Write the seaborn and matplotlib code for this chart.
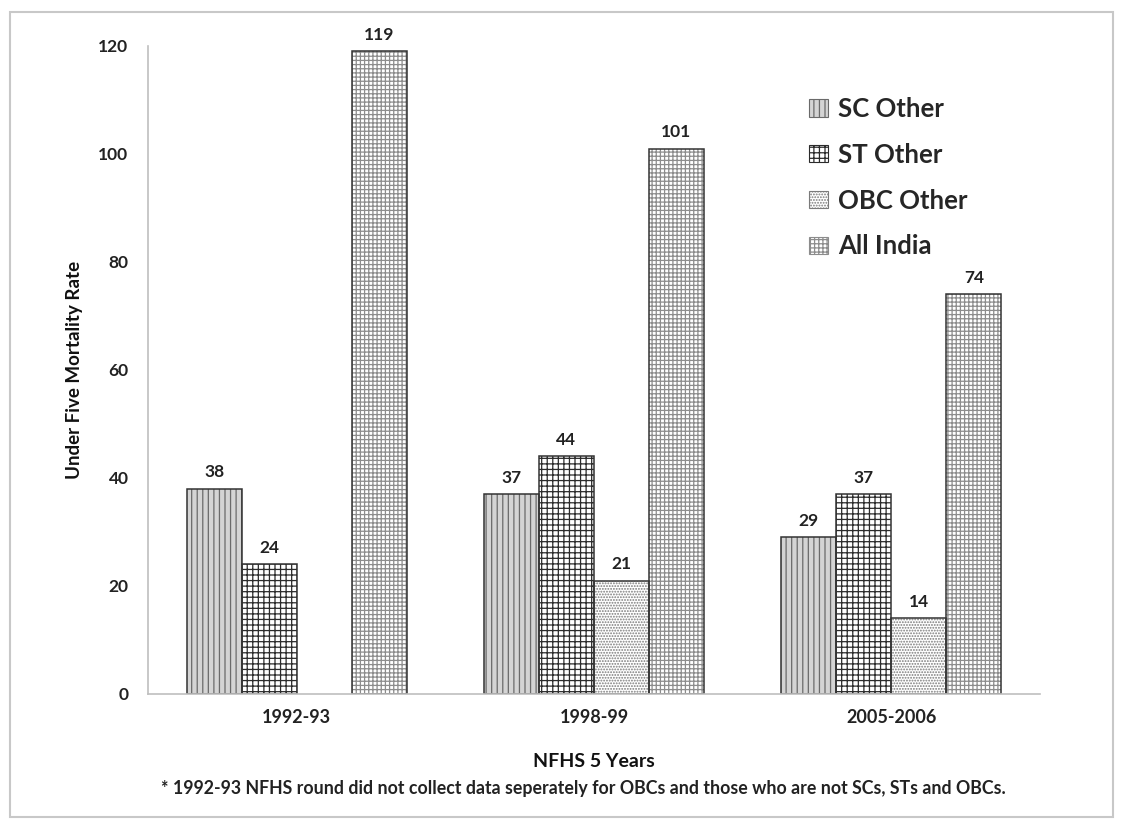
import numpy as np
import pandas as pd
import matplotlib
matplotlib.use("Agg")
import matplotlib.pyplot as plt
from matplotlib.patches import Rectangle, Patch
import seaborn as sns

# ── Data ───────────────────────────────────────────────────────
years = ["1992-93", "1998-99", "2005-2006"]
groups = ["SC Other", "ST Other", "OBC Other", "All India"]
sc_other = [38, 37, 29]
st_other = [24, 44, 37]
obc_other = [np.nan, 21, 14]   # not collected in 1992-93
all_india = [119, 101, 74]

df = pd.DataFrame({
    "Year": years * 4,
    "Group": np.repeat(groups, 3),
    "Rate": sc_other + st_other + obc_other + all_india,
})

# ── Styles ─────────────────────────────────────────────────────
sns.set_style("white")
plt.rcParams["font.family"] = ["Lato", "DejaVu Sans"]
plt.rcParams["hatch.linewidth"] = 0.9

# face colour, hatch colour, hatch pattern
styles = {
    "SC Other":  dict(face="#d4d4d4", hcol="#6a6a6a", hatch="|||"),
    "ST Other":  dict(face="white",   hcol="#2b2b2b", hatch="+++"),
    "OBC Other": dict(face="white",   hcol="#7a7a7a", hatch="......"),
    "All India": dict(face="white",   hcol="#8c8c8c", hatch="++++"),
}
outline = "#333333"

fig = plt.figure(figsize=(11.21, 8.21), dpi=100)
ax = fig.add_axes([0.132, 0.1547, 0.7957, 0.7893])

sns.barplot(data=df, x="Year", y="Rate", hue="Group", order=years,
            hue_order=groups, width=0.74, ax=ax, legend=False)

for grp, cont in zip(groups, ax.containers):
    st = styles[grp]
    for bar in cont:
        bar.set_facecolor(st["face"])
        bar.set_edgecolor(st["hcol"])
        bar.set_hatch(st["hatch"])
        bar.set_linewidth(0)
        if np.isfinite(bar.get_height()):
            # darker outline on top of the hatched bar
            ax.add_patch(Rectangle(bar.get_xy(), bar.get_width(), bar.get_height(),
                                   fill=False, edgecolor=outline, linewidth=1.1,
                                   zorder=bar.get_zorder() + 0.1))
    labels = ["" if not np.isfinite(b.get_height()) or b.get_height() == 0
              else f"{b.get_height():.0f}" for b in cont]
    ax.bar_label(cont, labels=labels, padding=6, fontsize=12.5, fontweight="bold",
                 color="#222222")

# ── Axes ───────────────────────────────────────────────────────
ax.set_xlim(-0.5, 2.5)
ax.set_ylim(0, 120)
ax.set_yticks(range(0, 121, 20))
ax.set_xticks([-0.5, 0.5, 1.5, 2.5], minor=True)
ax.tick_params(axis="x", which="major", length=0, pad=11, labelsize=13)
ax.tick_params(axis="x", which="minor", length=5, color="#bfbfbf", width=1)
ax.tick_params(axis="y", length=5, color="#bfbfbf", width=1, pad=9, labelsize=12.5)
for lab in ax.get_xticklabels() + ax.get_yticklabels():
    lab.set_fontweight("bold")
    lab.set_color("#222222")

sns.despine(ax=ax)
for side in ["left", "bottom"]:
    ax.spines[side].set_color("#bfbfbf")
    ax.spines[side].set_linewidth(1.2)

ax.set_ylabel("Under Five Mortality Rate", fontsize=13.5, fontweight="bold",
              labelpad=11, color="#111111")
ax.set_xlabel("NFHS 5 Years", fontsize=14, fontweight="bold",
              labelpad=19, color="#111111")

handles = [Patch(facecolor=styles[g]["face"], edgecolor=styles[g]["hcol"],
                 hatch=styles[g]["hatch"], linewidth=0.8) for g in groups]
ax.legend(handles, groups, loc="upper left", bbox_to_anchor=(0.715, 0.957),
          frameon=False, prop={"size": 18.5, "weight": "bold"},
          handlelength=0.75, handleheight=0.65, handletextpad=0.4,
          labelspacing=0.85)

fig.text(0.52, 0.040,
         "* 1992-93 NFHS round did not collect data seperately for OBCs and those "
         "who are not SCs, STs and OBCs.",
         ha="center", va="center", fontsize=12.8, fontweight="bold", color="#222222")

# light frame around the whole chart
fig.patches.append(Rectangle((0.009, 0.005), 0.984, 0.98, transform=fig.transFigure,
                             fill=False, edgecolor="#c8c8c8", linewidth=1.5))

fig.savefig("out.png", dpi=100)
